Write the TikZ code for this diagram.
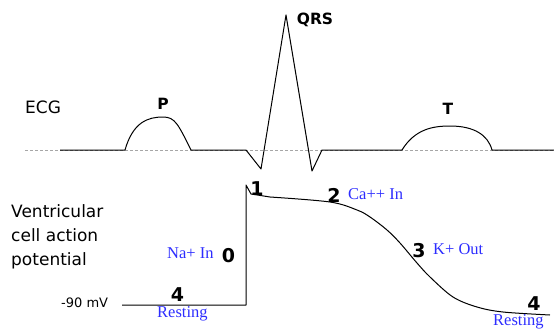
\documentclass[tikz,border=0pt]{standalone}
\usepackage{fontspec}
\setmainfont{DejaVu Sans}
\newfontfamily\serifblue{Liberation Serif}
\definecolor{labelblue}{RGB}{45,45,255}
\begin{document}
\begin{tikzpicture}[x=1pt,y=-1pt,
  trace/.style={line width=1pt,line join=round},
  baseline dash/.style={gray!70,line width=0.7pt,dash pattern=on 3pt off 2pt},
  bigtext/.style={inner sep=0pt,font=\fontsize{17}{20}\selectfont},
  wavelabel/.style={inner sep=0pt,font=\fontsize{15.5}{18}\selectfont\bfseries},
  phase/.style={inner sep=0pt,font=\fontsize{19}{22}\selectfont\bfseries},
  ion/.style={inner sep=0pt,text=labelblue,font=\fontsize{16.5}{19}\selectfont\serifblue},
  small/.style={inner sep=0pt,font=\fontsize{13}{15}\selectfont}]
\useasboundingbox (0,0) rectangle (554,329);
% ECG
\draw[baseline dash] (25,150) -- (554,150);
\draw[trace] (60,150) -- (125,150)
  .. controls (133,122) and (148,117) .. (163,117)
  .. controls (175,117) and (178,124) .. (191,150)
  -- (246,150) -- (261,169) -- (286,15) -- (312,171) -- (322,150) -- (402,150)
  .. controls (415,129) and (433,126) .. (450,126)
  .. controls (474,126) and (488,135) .. (492,150) -- (554,150);
\node[bigtext,anchor=base west] (ecg) at (25,113) {ECG};
\node[wavelabel,anchor=base] (p) at (163,109) {P};
\node[wavelabel,anchor=base] (qrs) at (315,25) {QRS};
\node[wavelabel,anchor=base] (t) at (448,114) {T};
% Action potential
\draw[trace] (122,305) -- (246,305) -- (246,185) -- (251,194) -- (270,197)
  -- plot[smooth,tension=0.55] coordinates {(270,197) (330,202) (357,210) (370,217) (387,230) (400,243) (417,263) (430,277) (453,297) (477,307) (503,312) (550,315)};
\node[bigtext,anchor=base west] (v1) at (11,217) {Ventricular};
\node[bigtext,anchor=base west] (v2) at (11,241) {cell action};
\node[bigtext,anchor=base west] (v3) at (11,265) {potential};
\node[small,anchor=base west] (mv) at (61,307) {-90 mV};
\node[phase,anchor=base] (n0) at (228.5,262) {0};
\node[phase,anchor=base] (n1) at (257,195) {1};
\node[phase,anchor=base] (n2) at (334,202) {2};
\node[phase,anchor=base] (n3) at (419,257) {3};
\node[phase,anchor=base] (n4a) at (177.5,301) {4};
\node[phase,anchor=base] (n4b) at (534,310.5) {4};
\node[ion,anchor=base west] (na) at (167,258) {Na+ In};
\node[ion,anchor=base west] (ca) at (348,199) {Ca++ In};
\node[ion,anchor=base west] (k) at (433,254) {K+ Out};
\node[ion,anchor=base west] (r1) at (157,317.5) {Resting};
\node[ion,anchor=base west] (r2) at (493,325.5) {Resting};
\end{tikzpicture}
\end{document}
